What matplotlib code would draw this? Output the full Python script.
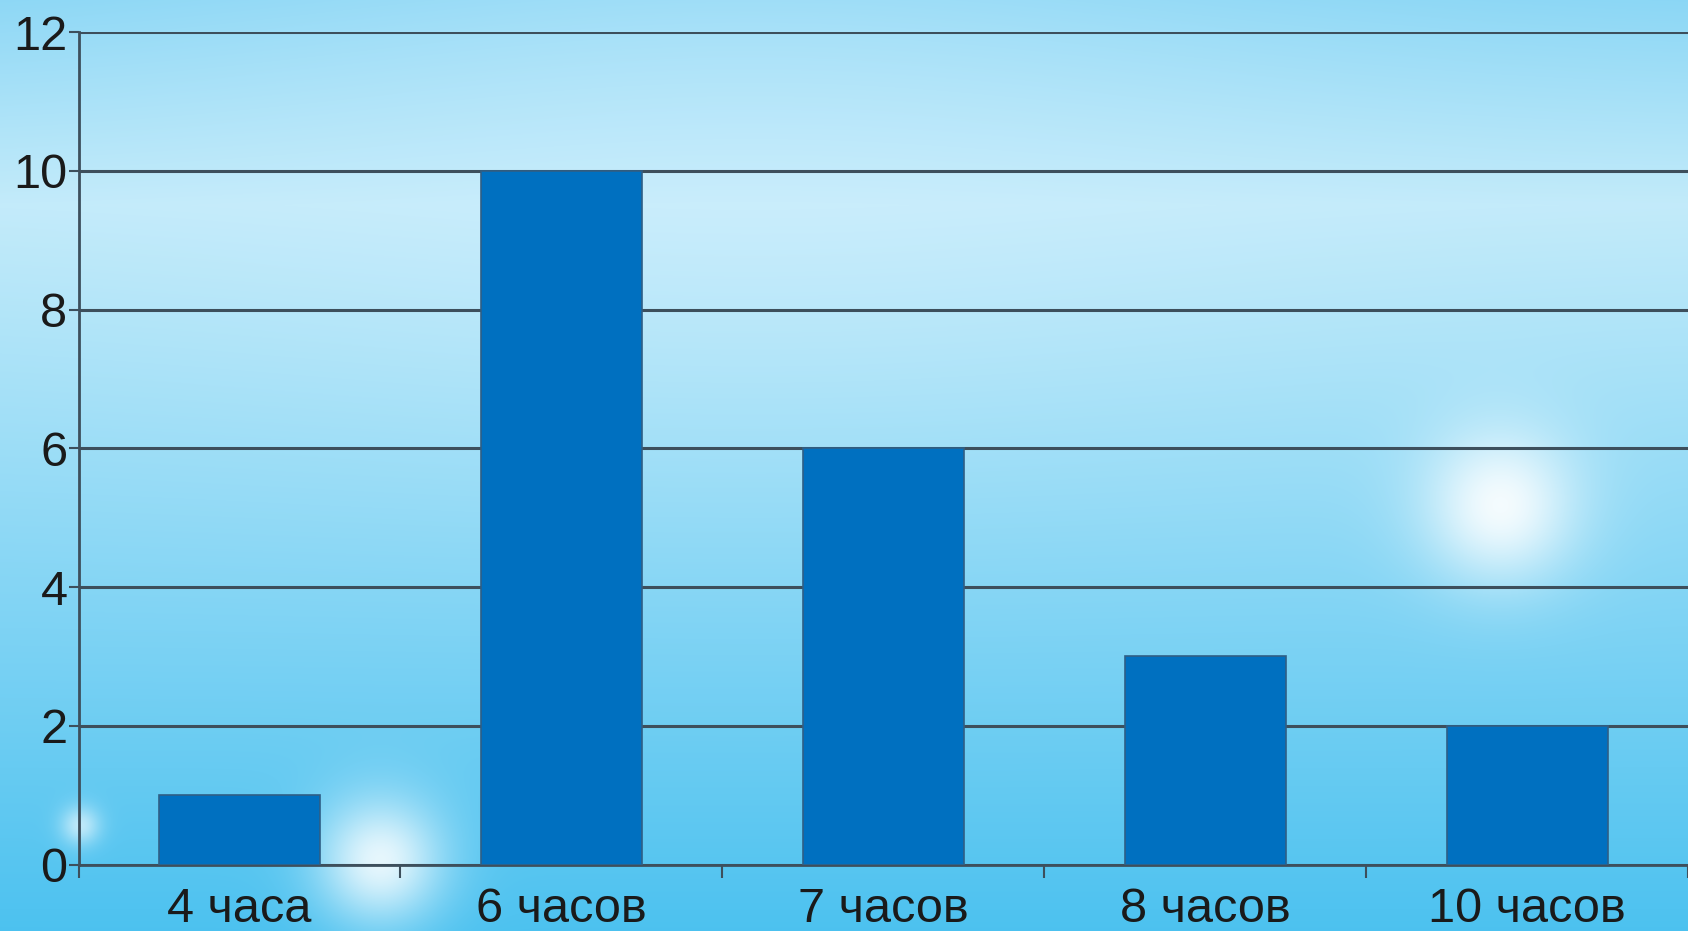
import numpy as np
import matplotlib.pyplot as plt

categories = ['4 часа', '6 часов', '7 часов', '8 часов', '10 часов']
values = [1, 10, 6, 3, 2]
y_ticks = [0, 2, 4, 6, 8, 10, 12]

W, H = 1688, 931
fig = plt.figure(figsize=(W / 100, H / 100), dpi=100)

# background: sky-blue gradient with soft glows
yy, xx = np.mgrid[0:H, 0:W]
t = yy / (H - 1)
top = np.array([0.54, 0.84, 0.96])
mid = np.array([0.76, 0.92, 0.98])
bot = np.array([0.30, 0.76, 0.94])
base = np.where((t < 0.22)[..., None],
                top + (mid - top) * (t / 0.22)[..., None],
                mid + (bot - mid) * ((t - 0.22) / 0.78)[..., None])
# lighter region in the upper middle
light = np.exp(-(((xx - 750) / 600.0) ** 2 + ((yy - 150) / 300.0) ** 2))[..., None]
bg = base + (np.array([0.85, 0.95, 1.0]) - base) * 0.35 * light
for gx, gy, s, k in [(1500, 505, 55, 0.9), (380, 860, 45, 0.85), (80, 825, 14, 0.6)]:
    g = np.exp(-(((xx - gx) ** 2 + (yy - gy) ** 2) / (2.0 * s ** 2)))[..., None]
    bg = bg + (1 - bg) * k * g
bg = np.clip(bg, 0, 1)

bax = fig.add_axes([0, 0, 1, 1], zorder=0)
bax.imshow(bg, aspect='auto', extent=[0, 1, 0, 1])
bax.axis('off')

ax = fig.add_axes([78.6 / W, (H - 864.5) / H, (W - 78.6) / W, (864.5 - 32.3) / H], zorder=1)
ax.patch.set_alpha(0)

x = np.arange(len(categories))
ax.bar(x, values, width=0.5, color='#0070C0', edgecolor='#2f5f86', linewidth=1.2, zorder=3)

ax.set_xlim(-0.5, len(categories) - 0.5)
ax.set_ylim(0, 12)
ax.set_yticks(y_ticks)
ax.yaxis.grid(True, color='#3d4f5c', linewidth=2.2, zorder=1)
ax.set_axisbelow(True)

# category boundaries as major ticks, labels on minor ticks
ax.set_xticks(np.arange(-0.5, len(categories), 1.0))
ax.set_xticklabels([])
ax.set_xticks(x, minor=True)
ax.set_xticklabels(categories, minor=True)
ax.tick_params(axis='x', which='major', length=9, width=1.5, color='#3d4f5c', direction='out')
ax.tick_params(axis='x', which='minor', length=0, pad=16)
ax.tick_params(axis='y', length=7, width=1.5, color='#3d4f5c', pad=1)

for lab in ax.get_xticklabels(minor=True) + ax.get_yticklabels():
    lab.set_family(['Liberation Sans', 'DejaVu Sans'])
    lab.set_fontsize(35)
    lab.set_color('#1a1a1a')

for side in ['top', 'right']:
    ax.spines[side].set_visible(False)
for side in ['left', 'bottom']:
    ax.spines[side].set_color('#3d4f5c')
    ax.spines[side].set_linewidth(2)

fig.savefig('out.png', dpi=100)
